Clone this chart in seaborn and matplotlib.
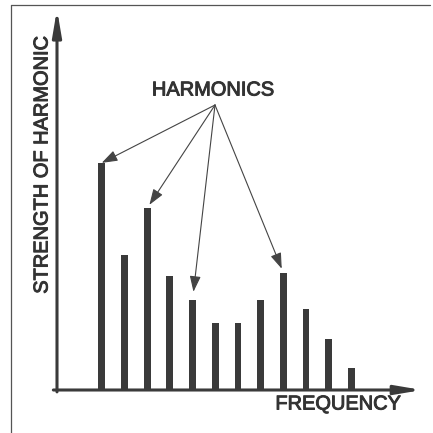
import pandas as pd
import seaborn as sns
import matplotlib.pyplot as plt
import matplotlib.patheffects as pe
from matplotlib.lines import Line2D


HARMONIC = [1, 2, 3, 4, 5, 6, 7, 8, 9, 10, 11, 12]
STRENGTH = [100, 59.5, 80, 50, 39.6, 29.6, 29.6, 39.6, 51.7, 35.7, 22.3, 9.8]
POINTED = [1, 3, 5, 9]

INK = '#3a3a3a'
FONT = ['Liberation Sans', 'DejaVu Sans']


def plt_harmonics(df: pd.DataFrame) -> None:
    sns.set_theme(style='white')
    plt.rcParams['font.family'] = FONT

    fig = plt.figure(figsize=(4.33, 4.33), dpi=100)
    W = 433.0
    # plotting region = from the y axis to the x axis arrow tips
    ax = fig.add_axes([57 / W, 43 / W, (422 - 57) / W, (420 - 43) / W])

    sns.barplot(df, x='harmonic', y='strength', color=INK, width=0.3,
                saturation=1, ax=ax, order=HARMONIC, linewidth=0)
    ax.set_xlim(-1.97, 14.11)
    ax.set_ylim(0, 166)
    ax.axis('off')

    # axes with arrow heads
    axis_style = dict(arrowstyle='-|>,head_length=1.3,head_width=0.22',
                      lw=2.2, color=INK, shrinkA=0, shrinkB=0)
    ax.annotate('', xy=(1, 0), xytext=(-0.01, 0), xycoords='axes fraction',
                arrowprops=axis_style, annotation_clip=False)
    ax.annotate('', xy=(0, 1.01), xytext=(0, -0.005),
                xycoords='axes fraction',
                arrowprops=axis_style, annotation_clip=False)

    # frame of the figure (top and left only)
    fig.add_artist(Line2D([11 / W, 430 / W], [1 - 5 / W, 1 - 5 / W],
                          color='#555555', lw=0.9))
    fig.add_artist(Line2D([11 / W, 11 / W], [0, 1 - 5 / W],
                          color='#555555', lw=0.9))

    txt = dict(fontsize=14.4, color='#333333', ha='center', va='center',
               path_effects=[pe.withStroke(linewidth=0.7,
                                           foreground='#333333')])
    fig.text(213 / W, 1 - 90 / W, 'HARMONICS', **txt)
    fig.text(338 / W, 1 - 404 / W, 'FREQUENCY', **txt)
    fig.text(42 / W, 1 - 165 / W, 'STRENGTH OF HARMONIC', rotation=90, **txt)

    # arrows from the label to the pointed harmonics
    gaps = {1: 0, 3: 3, 5: 6, 9: 3}
    for h in POINTED:
        i = HARMONIC.index(h)
        ax.annotate('', xy=(i, STRENGTH[i]), xytext=(215, W - 105),
                    textcoords='figure pixels',
                    arrowprops=dict(arrowstyle='-|>,head_length=0.8,'
                                    'head_width=0.28',
                                    lw=0.8, color='#444444',
                                    shrinkA=0, shrinkB=gaps[h]),
                    annotation_clip=False)

    fig.savefig('out.png', dpi=100)


if __name__ == '__main__':
    data = pd.DataFrame({'harmonic': HARMONIC, 'strength': STRENGTH})
    plt_harmonics(data)
